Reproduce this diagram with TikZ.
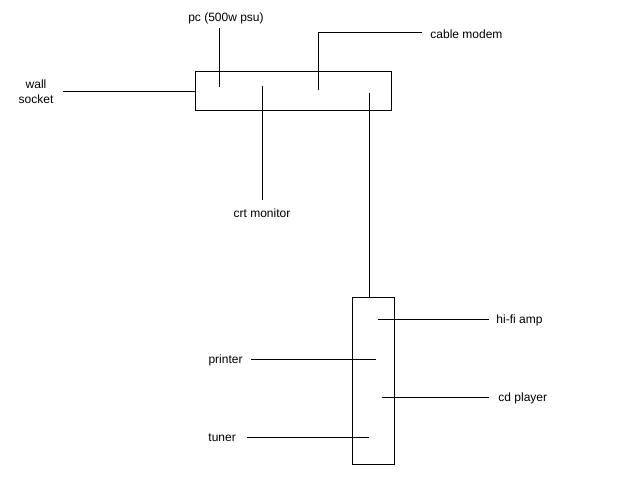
\documentclass[tikz,border=0pt]{standalone}
\usepackage{fontspec}
\setmainfont{Liberation Sans}
\begin{document}
\begin{tikzpicture}[x=1pt,y=-1pt, line width=0.9pt,
  lbl/.style={font=\fontsize{12}{15}\selectfont, inner sep=0pt},
  unit/.style={draw, inner sep=0pt, line width=0.9pt},
  wire/.style={draw, line width=0.9pt}]
\useasboundingbox (0,0) rectangle (644,478);
% boxes
\node[unit, minimum width=196pt, minimum height=39pt, anchor=north west] (pc) at (195,71) {};
\node[unit, minimum width=42pt, minimum height=167pt, anchor=north west] (rack) at (352,297) {};
% labels
\node[lbl, align=center] (wall) at (36,92) {wall\\socket};
\node[lbl] (pcl) at (226,18) {pc (500w psu)};
\node[lbl] (crt) at (262,213) {crt monitor};
\node[lbl, anchor=west] (modem) at (430,34) {cable modem};
\node[lbl, anchor=west] (amp) at (496,320) {hi-fi amp};
\node[lbl, anchor=east] (printer) at (243,360) {printer};
\node[lbl, anchor=west] (cd) at (498,398) {cd player};
\node[lbl, anchor=west] (tuner) at (208,438) {tuner};
% wire ends
\coordinate (ws) at (63,91);
\coordinate (pcA) at (219,28);
\coordinate (pcB) at (219,87);
\coordinate (crtA) at (262,86);
\coordinate (crtB) at (262,200);
\coordinate (mdA) at (318,90);
\coordinate (mdB) at (422,32);
\coordinate (lk) at (369,93);
\coordinate (ampA) at (378,319);
\coordinate (ampB) at (489,319);
\coordinate (prA) at (251,359);
\coordinate (prB) at (376,359);
\coordinate (cdA) at (382,397);
\coordinate (cdB) at (489,397);
\coordinate (tuA) at (247,437);
\coordinate (tuB) at (369,437);
% wires
\path[wire] (ws) -- (ws -| pc.west);
\path[wire] (pcA) -- (pcB);
\path[wire] (crtA) -- (crtB);
\path[wire] (mdA) |- (mdB);
\path[wire] (lk) -- (lk |- rack.north);
\path[wire] (ampA) -- (ampB);
\path[wire] (prA) -- (prB);
\path[wire] (cdA) -- (cdB);
\path[wire] (tuA) -- (tuB);
\end{tikzpicture}
\end{document}
